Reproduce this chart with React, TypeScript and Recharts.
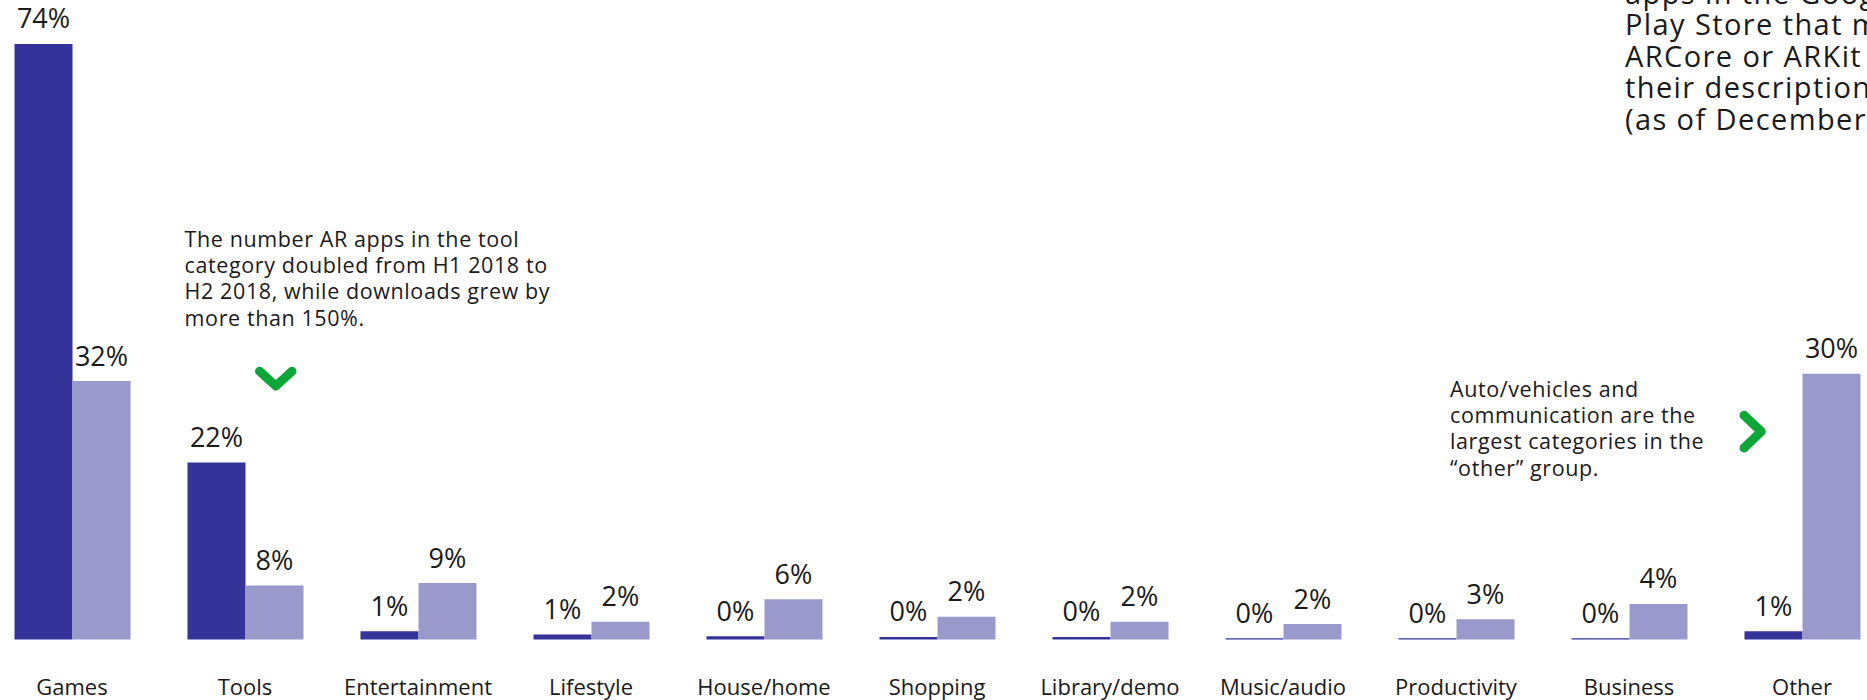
import { BarChart, Bar, XAxis, YAxis, LabelList } from 'recharts';

const categories = [
  'Games', 'Tools', 'Entertainment', 'Lifestyle', 'House/home', 'Shopping',
  'Library/demo', 'Music/audio', 'Productivity', 'Business', 'Other',
];
// bar heights as drawn (percent)
const h1Values = [74, 22, 1.0, 0.6, 0.4, 0.3, 0.3, 0.15, 0.15, 0.15, 1.0];
const h2Values = [32.1, 6.7, 7.0, 2.2, 5.0, 2.8, 2.2, 1.9, 2.5, 4.4, 33.0];
// printed labels
const h1Labels = ['74%', '22%', '1%', '1%', '0%', '0%', '0%', '0%', '0%', '0%', '1%'];
const h2Labels = ['32%', '8%', '9%', '2%', '6%', '2%', '2%', '2%', '3%', '4%', '30%'];

const toolsNote = [
  'The number AR apps in the tool',
  'category doubled from H1 2018 to',
  'H2 2018, while downloads grew by',
  'more than 150%.',
];
const otherNote = [
  'Auto/vehicles and',
  'communication are the',
  'largest categories in the',
  '“other” group.',
];
const sideNote = [
  'apps in the Google',
  'Play Store that mention',
  'ARCore or ARKit in',
  'their description',
  '(as of December 2018)',
];

const DARK = '#333399';
const LIGHT = '#9999cc';
const GREEN = '#0ba637';
const TEXT = '#1a1a1a';
const FONT = '"Open Sans", Lato, sans-serif';

const data = categories.map((name, i) => ({
  name,
  h1: h1Values[i],
  h2: h2Values[i],
  l1: h1Labels[i],
  l2: h2Labels[i],
}));

const makeLabel = (labels: string[]) => (props: any) => {
  const { x, y, width, index } = props;
  return (
    <text
      x={x + width / 2}
      y={y - 26}
      textAnchor="middle"
      dominantBaseline="central"
      fontSize={27}
      fontFamily={FONT}
      fill={TEXT}
    >
      {labels[index]}
    </text>
  );
};

const CategoryTick = (props: any) => {
  const { x, y, payload } = props;
  return (
    <text
      x={x}
      y={y + 47}
      textAnchor="middle"
      dominantBaseline="central"
      fontSize={22}
      fontFamily={FONT}
      fill={TEXT}
    >
      {payload.value}
    </text>
  );
};

const Note = ({ lines, left, top, size, lh, ls }: { lines: string[]; left: number; top: number; size: number; lh: number; ls: number }) => (
  <div
    style={{
      position: 'absolute',
      left,
      top,
      fontFamily: FONT,
      fontSize: size,
      lineHeight: `${lh}px`,
      letterSpacing: ls,
      color: TEXT,
      whiteSpace: 'nowrap',
    }}
  >
    {lines.map((l) => (
      <div key={l}>{l}</div>
    ))}
  </div>
);

export default function App() {
  return (
    <div
      style={{
        position: 'absolute',
        left: 0,
        top: 0,
        width: 1867,
        height: 700,
        overflow: 'hidden',
        background: '#fff',
      }}
    >
      <div style={{ position: 'absolute', left: -30, top: -20 }}>
        <BarChart
          width={1950}
          height={720}
          data={data}
          margin={{ top: 15.7, right: 31.5, left: 15.5, bottom: 20.6 }}
          barCategoryGap={29}
          barGap={0}
        >
          <XAxis
            dataKey="name"
            height={40}
            axisLine={false}
            tickLine={false}
            tickSize={0}
            tickMargin={0}
            interval={0}
            tick={<CategoryTick />}
          />
          <YAxis hide domain={[0, 80]} />
          <Bar dataKey="h1" fill={DARK} isAnimationActive={false}>
            <LabelList dataKey="l1" content={makeLabel(h1Labels)} />
          </Bar>
          <Bar dataKey="h2" fill={LIGHT} isAnimationActive={false}>
            <LabelList dataKey="l2" content={makeLabel(h2Labels)} />
          </Bar>
        </BarChart>
      </div>

      <Note lines={toolsNote} left={184.6} top={225.9} size={21.5} lh={26.3} ls={0.6} />
      <Note lines={otherNote} left={1450} top={376} size={21.5} lh={26.2} ls={0.6} />
      <Note lines={sideNote} left={1625} top={-23.3} size={29} lh={31.5} ls={1.4} />

      <svg
        width={1867}
        height={700}
        style={{ position: 'absolute', left: 0, top: 0, pointerEvents: 'none' }}
      >
        <polyline
          points="259.5,371.2 275.8,386 292,371.2"
          fill="none"
          stroke={GREEN}
          strokeWidth={9}
          strokeLinecap="round"
          strokeLinejoin="round"
        />
        <polyline
          points="1744,415.3 1761.3,431.6 1744,448"
          fill="none"
          stroke={GREEN}
          strokeWidth={9}
          strokeLinecap="round"
          strokeLinejoin="round"
        />
      </svg>
    </div>
  );
}
